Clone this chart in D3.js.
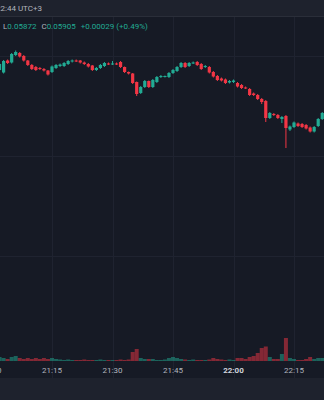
<!DOCTYPE html>
<html lang="en">
<head>
<meta charset="utf-8">
<title>Candles 1m</title>
<script src="https://cdn.jsdelivr.net/npm/d3@7"></script>
<style>
  html, body { margin: 0; padding: 0; background: #161a25; overflow: hidden; }
  svg { display: block; }
</style>
</head>
<body>
<script>
var w = 324, h = 400;

// first candle is 21:02, one candle per minute
var startMinute = 2;
var open = [0.059172,0.059167,0.059191,0.059187,0.059202,0.059206,0.059200,0.059191,0.059182,0.059178,
  0.059176,0.059174,0.059171,0.059168,0.059176,0.059180,0.059180,0.059184,0.059189,0.059191,
  0.059191,0.059187,0.059184,0.059181,0.059172,0.059176,0.059180,0.059185,0.059184,0.059185,
  0.059188,0.059178,0.059168,0.059165,0.059148,0.059126,0.059138,0.059150,0.059138,0.059148,
  0.059158,0.059159,0.059158,0.059166,0.059170,0.059178,0.059186,0.059180,0.059186,0.059188,
  0.059184,0.059178,0.059178,0.059168,0.059160,0.059155,0.059153,0.059147,0.059148,0.059146,
  0.059142,0.059137,0.059134,0.059125,0.059122,0.059114,0.059110,0.059076,0.059084,0.059082,
  0.059074,0.059080,0.059053,0.059058,0.059065,0.059064,0.059062,0.059057,0.059049,0.059060,
  0.059074];
var high = [0.059186,0.059192,0.059193,0.059206,0.059211,0.059208,0.059202,0.059192,0.059184,0.059180,
  0.059178,0.059176,0.059172,0.059181,0.059184,0.059185,0.059188,0.059192,0.059193,0.059193,
  0.059192,0.059189,0.059186,0.059182,0.059178,0.059184,0.059188,0.059187,0.059190,0.059187,
  0.059190,0.059179,0.059169,0.059166,0.059149,0.059140,0.059152,0.059151,0.059154,0.059160,
  0.059162,0.059161,0.059168,0.059174,0.059180,0.059188,0.059188,0.059188,0.059189,0.059190,
  0.059186,0.059182,0.059180,0.059170,0.059162,0.059157,0.059155,0.059152,0.059153,0.059148,
  0.059144,0.059139,0.059136,0.059127,0.059124,0.059116,0.059112,0.059088,0.059086,0.059084,
  0.059080,0.059082,0.059061,0.059069,0.059067,0.059066,0.059064,0.059059,0.059060,0.059076,
  0.059088];
var low = [0.059170,0.059165,0.059184,0.059185,0.059200,0.059197,0.059189,0.059180,0.059172,0.059170,
  0.059172,0.059169,0.059161,0.059166,0.059174,0.059178,0.059178,0.059182,0.059187,0.059188,
  0.059185,0.059182,0.059177,0.059170,0.059170,0.059174,0.059178,0.059182,0.059182,0.059182,
  0.059176,0.059166,0.059163,0.059144,0.059120,0.059124,0.059136,0.059136,0.059136,0.059146,
  0.059156,0.059157,0.059156,0.059164,0.059168,0.059176,0.059176,0.059178,0.059184,0.059180,
  0.059172,0.059176,0.059165,0.059157,0.059150,0.059149,0.059144,0.059145,0.059146,0.059137,
  0.059134,0.059134,0.059120,0.059120,0.059112,0.059104,0.059068,0.059074,0.059080,0.059074,
  0.059066,0.059016,0.059050,0.059056,0.059058,0.059056,0.059053,0.059047,0.059047,0.059058,
  0.059072];
var close = [0.059184,0.059190,0.059186,0.059204,0.059208,0.059199,0.059191,0.059182,0.059174,0.059172,
  0.059174,0.059171,0.059163,0.059179,0.059182,0.059183,0.059186,0.059190,0.059191,0.059190,
  0.059187,0.059184,0.059179,0.059172,0.059176,0.059182,0.059186,0.059184,0.059185,0.059184,
  0.059178,0.059168,0.059165,0.059146,0.059124,0.059138,0.059150,0.059138,0.059152,0.059158,
  0.059160,0.059160,0.059166,0.059172,0.059178,0.059186,0.059178,0.059186,0.059187,0.059182,
  0.059174,0.059180,0.059167,0.059159,0.059152,0.059151,0.059146,0.059150,0.059151,0.059139,
  0.059136,0.059136,0.059122,0.059122,0.059114,0.059108,0.059076,0.059086,0.059082,0.059076,
  0.059078,0.059056,0.059059,0.059067,0.059060,0.059058,0.059055,0.059049,0.059058,0.059074,
  0.059086];
var volume = [400,300,200,400,500,300,200,300,200,300,
  200,300,200,300,200,150,100,150,100,100,
  100,150,100,100,100,150,100,100,100,100,
  150,100,150,900,1200,300,200,200,200,100,
  100,150,300,400,300,200,150,100,150,100,
  100,100,150,300,200,150,100,150,100,300,
  300,200,400,500,800,1300,1450,400,200,200,
  700,2300,300,200,100,100,200,400,200,300,
  300];

var timeTicks = [0, 15, 30, 45, 60, 75];
var timeLabels = ["21:00", "21:15", "21:30", "21:45", "22:00", "22:15"];
var priceGrid = [0.0592, 0.0590, 0.0588];

var up = "#22ab94", down = "#f23645";

var candles = open.map(function(o, i) {
  return {t: startMinute + i, o: o, h: high[i], l: low[i], c: close[i], v: volume[i]};
});

var svg = d3.select("body").append("svg")
  .attr("width", w).attr("height", h)
  .style("font-family", "Roboto, 'Noto Sans', sans-serif");

var x = d3.scaleLinear().domain([15, 75]).range([52, 294]);
var y = d3.scaleLinear().domain([0.0588, 0.0592]).range([256, 56]);
var yv = d3.scaleLinear().domain([0, 4000]).range([361, 321]);

// panels
svg.append("rect").attr("width", w).attr("height", h).attr("fill", "#161a25");
svg.append("rect").attr("width", w).attr("height", 16).attr("fill", "#1e222d");
svg.append("rect").attr("y", 16).attr("width", w).attr("height", 1).attr("fill", "#2a2e39");
svg.append("rect").attr("y", 378).attr("width", w).attr("height", 22).attr("fill", "#1e222d");

// grid
svg.selectAll("line.vg").data(timeTicks).enter().append("line")
  .attr("class", "vg")
  .attr("x1", function(d) { return Math.round(x(d)) + 0.5; })
  .attr("x2", function(d) { return Math.round(x(d)) + 0.5; })
  .attr("y1", 17).attr("y2", 378)
  .attr("stroke", "#1f2330");
svg.selectAll("line.hg").data(priceGrid).enter().append("line")
  .attr("class", "hg")
  .attr("x1", 0).attr("x2", w)
  .attr("y1", function(d) { return Math.round(y(d)) + 0.5; })
  .attr("y2", function(d) { return Math.round(y(d)) + 0.5; })
  .attr("stroke", "#1f2330");

// volume
svg.selectAll("rect.vol").data(candles).enter().append("rect")
  .attr("class", "vol")
  .attr("x", function(d) { return x(d.t) - 2; })
  .attr("width", 4)
  .attr("y", function(d) { return yv(d.v); })
  .attr("height", function(d) { return yv(0) - yv(d.v); })
  .attr("fill", function(d) { return d.c >= d.o ? up : down; })
  .attr("opacity", 0.5);

// candles
var g = svg.selectAll("g.candle").data(candles).enter().append("g").attr("class", "candle");
g.append("line")
  .attr("x1", function(d) { return x(d.t); })
  .attr("x2", function(d) { return x(d.t); })
  .attr("y1", function(d) { return y(d.h); })
  .attr("y2", function(d) { return y(d.l); })
  .attr("stroke", function(d) { return d.c >= d.o ? up : down; })
  .attr("stroke-width", 1);
g.append("rect")
  .attr("x", function(d) { return x(d.t) - 1.6; })
  .attr("width", 3.2)
  .attr("y", function(d) { return y(Math.max(d.o, d.c)); })
  .attr("height", function(d) { return Math.max(1, Math.abs(y(d.o) - y(d.c))); })
  .attr("fill", function(d) { return d.c >= d.o ? up : down; });

// time axis labels
svg.selectAll("text.tl").data(timeTicks).enter().append("text")
  .attr("class", "tl")
  .attr("x", function(d) { return x(d); })
  .attr("y", 373)
  .attr("text-anchor", "middle")
  .attr("font-size", 8)
  .attr("font-weight", function(d, i) { return timeLabels[i] === "22:00" ? 700 : 400; })
  .attr("fill", function(d, i) { return timeLabels[i] === "22:00" ? "#d1d4dc" : "#b2b5be"; })
  .text(function(d, i) { return timeLabels[i]; });

// header
svg.append("text").attr("x", -4).attr("y", 11)
  .attr("font-size", 8).attr("fill", "#b2b5be").text("22:44 UTC+3");

var legend = svg.append("text").attr("x", 3).attr("y", 29).attr("font-size", 8);
legend.append("tspan").attr("fill", "#b2b5be").text("L");
legend.append("tspan").attr("fill", up).text("0.05872");
legend.append("tspan").attr("fill", "#b2b5be").attr("dx", 5).text("C");
legend.append("tspan").attr("fill", up).text("0.05905");
legend.append("tspan").attr("fill", up).attr("dx", 5).text("+0.00029 (+0.49%)");
</script>
</body>
</html>
